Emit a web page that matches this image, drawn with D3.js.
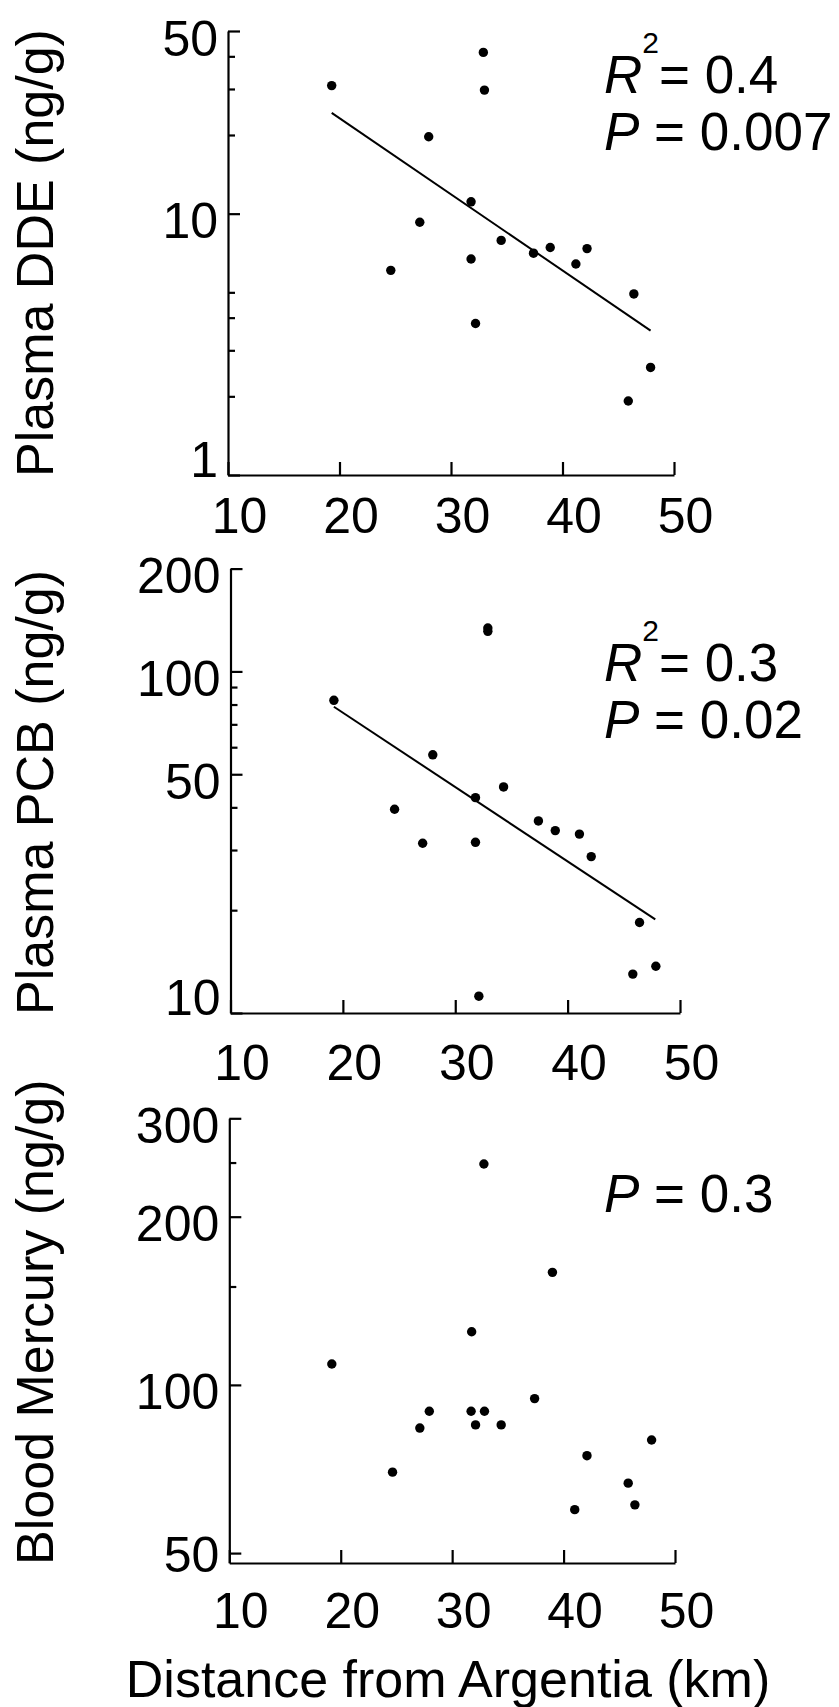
<!DOCTYPE html>
<html>
<head>
<meta charset="utf-8">
<script src="https://cdn.jsdelivr.net/npm/d3@7"></script>
<style>
  body { margin: 0; background: #fff; }
  text { font-family: "Liberation Sans", Arial, sans-serif; fill: #000; }
</style>
</head>
<body>
<div id="chart"></div>
<script>
// Data
const xTicks = [10, 20, 30, 40, 50];

// Plasma DDE
const ddeDistance = [19.3, 32.9, 33.0, 28.0, 31.8, 27.2, 34.5, 38.9, 42.2, 37.4, 41.2, 31.8, 24.6, 46.4, 32.2, 47.9, 45.9];
const ddeValues = [30.9, 41.4, 29.7, 19.7, 11.1, 9.27, 7.9, 7.42, 7.35, 7.06, 6.42, 6.71, 6.07, 4.93, 3.80, 2.58, 1.92];
const ddeFitX = [19.3, 47.9];
const ddeFitY = [24.3, 3.57];
const ddeMajor = [1, 10, 50];
const ddeMinor = [2, 3, 4, 5, 20, 30, 40];

// Plasma PCB
const pcbDistance = [19.2, 32.9, 32.9, 28.0, 34.3, 31.8, 24.6, 37.4, 38.9, 41.05, 27.1, 31.8, 42.1, 46.4, 47.85, 45.8, 32.1];
const pcbValues = [82.3, 134, 131, 57.0, 45.9, 42.7, 39.5, 36.5, 34.2, 33.4, 31.4, 31.6, 28.7, 18.4, 13.7, 13.0, 11.2];
const pcbFitX = [19.2, 47.8];
const pcbFitY = [78.8, 18.8];
const pcbMajor = [10, 50, 100, 200];
const pcbMinor = [20, 30, 40, 60, 70, 80, 90];

// Blood mercury
const hgDistance = [32.85, 39.0, 31.75, 19.2, 37.4, 27.95, 31.7, 32.9, 27.1, 32.1, 34.4, 47.9, 42.1, 24.65, 45.8, 46.4, 41.0];
const hgValues = [248.5, 159, 124.5, 109, 94.5, 89.7, 89.7, 89.7, 83.7, 84.8, 84.8, 79.7, 74.7, 69.8, 66.7, 61.0, 59.8];
const hgMajor = [50, 100, 200, 300];
const hgMinor = [150, 250];

const width = 839;
const height = 1707;

const svg = d3.select("#chart")
  .append("svg")
    .attr("width", width)
    .attr("height", height)
    .attr("viewBox", `0 0 ${width} ${height}`);

svg.append("rect")
  .attr("width", width)
  .attr("height", height)
  .attr("fill", "#fff");

/***************************/
/*    One panel function   */
/***************************/
const drawPanel = (p) => {
  const xScale = d3.scaleLinear()
    .domain([10, 50])
    .range([p.left, p.right]);
  const yScale = d3.scaleLog()
    .domain(p.yDomain)
    .range([p.bottom, p.top]);

  const g = svg.append("g");

  // Bottom axis, ticks pointing up
  const bottomAxis = d3.axisBottom(xScale)
    .tickValues(xTicks)
    .tickSizeInner(-13)
    .tickSizeOuter(0)
    .tickFormat(d3.format("d"));
  const gx = g.append("g")
    .attr("transform", `translate(0, ${p.bottom})`)
    .call(bottomAxis);
  gx.selectAll("text")
    .attr("y", p.xLabelDy)
    .attr("dy", 0)
    .attr("dx", 11)
    .attr("font-size", 50);

  // Left axis: major ticks with labels
  const leftAxis = d3.axisLeft(yScale)
    .tickValues(p.major)
    .tickSizeInner(-12)
    .tickSizeOuter(0)
    .tickFormat(d3.format("d"));
  const gy = g.append("g")
    .attr("transform", `translate(${p.left}, 0)`)
    .call(leftAxis);
  gy.selectAll("text")
    .attr("x", -10)
    .attr("dy", 0)
    .attr("font-size", 50)
    .attr("y", (d, i) => {
      const ty = yScale(d);
      if (i === 0) return (p.bottom - ty < 5) ? 1 : 18;
      return 24;
    });

  // Left axis: minor ticks
  const minorAxis = d3.axisLeft(yScale)
    .tickValues(p.minor)
    .tickSizeInner(-7)
    .tickSizeOuter(0)
    .tickFormat("");
  const gm = g.append("g")
    .attr("transform", `translate(${p.left}, 0)`)
    .call(minorAxis);
  gm.select(".domain").remove();

  g.selectAll(".domain, .tick line")
    .attr("stroke", "#000")
    .attr("stroke-width", 2.2);

  // Regression line
  if (p.fitX) {
    const fit = p.fitX.map((x, i) => [x, p.fitY[i]]);
    g.append("path")
      .attr("d", d3.line().x(d => xScale(d[0])).y(d => yScale(d[1]))(fit))
      .attr("fill", "none")
      .attr("stroke", "#000")
      .attr("stroke-width", 2);
  }

  // Data points
  const pts = p.xs.map((x, i) => ({x: x, y: p.ys[i]}));
  g.selectAll("circle")
    .data(pts)
    .join("circle")
      .attr("r", 4.7)
      .attr("cx", d => xScale(d.x))
      .attr("cy", d => yScale(d.y))
      .attr("fill", "#000");

  // Y axis title
  g.append("text")
    .attr("transform", `translate(53, ${p.bottom + 2}) rotate(-90)`)
    .attr("font-size", 52)
    .text(p.title);

  // Statistics
  if (p.r2) {
    const t = g.append("text")
      .attr("x", 604)
      .attr("y", p.statY)
      .attr("font-size", 53);
    t.append("tspan").attr("font-style", "italic").text("R");
    t.append("tspan").attr("font-size", 30).attr("dy", -40).text("2");
    t.append("tspan").attr("dy", 40).text("= " + p.r2);
  }
  const pText = g.append("text")
    .attr("x", 604)
    .attr("y", p.r2 ? p.statY + 57 : p.statY)
    .attr("font-size", 53);
  pText.append("tspan").attr("font-style", "italic").text("P");
  pText.append("tspan").text(" = " + p.pVal);
};

drawPanel({
  left: 228, right: 674, top: 31, bottom: 475,
  yDomain: [1, 50], major: ddeMajor, minor: ddeMinor,
  xs: ddeDistance, ys: ddeValues, fitX: ddeFitX, fitY: ddeFitY,
  title: "Plasma DDE (ng/g)", r2: "0.4", pVal: "0.007", statY: 93, xLabelDy: 58
});

drawPanel({
  left: 230.5, right: 680, top: 568.6, bottom: 1013,
  yDomain: [10, 200], major: pcbMajor, minor: pcbMinor,
  xs: pcbDistance, ys: pcbValues, fitX: pcbFitX, fitY: pcbFitY,
  title: "Plasma PCB (ng/g)", r2: "0.3", pVal: "0.02", statY: 681, xLabelDy: 67
});

drawPanel({
  left: 229.3, right: 675, top: 1118.3, bottom: 1563,
  yDomain: [48, 300], major: hgMajor, minor: hgMinor,
  xs: hgDistance, ys: hgValues,
  title: "Blood Mercury (ng/g)", pVal: "0.3", statY: 1212, xLabelDy: 65
});

// X axis title
svg.append("text")
  .attr("x", 448)
  .attr("y", 1697)
  .attr("text-anchor", "middle")
  .attr("font-size", 52)
  .text("Distance from Argentia (km)");
</script>
</body>
</html>
